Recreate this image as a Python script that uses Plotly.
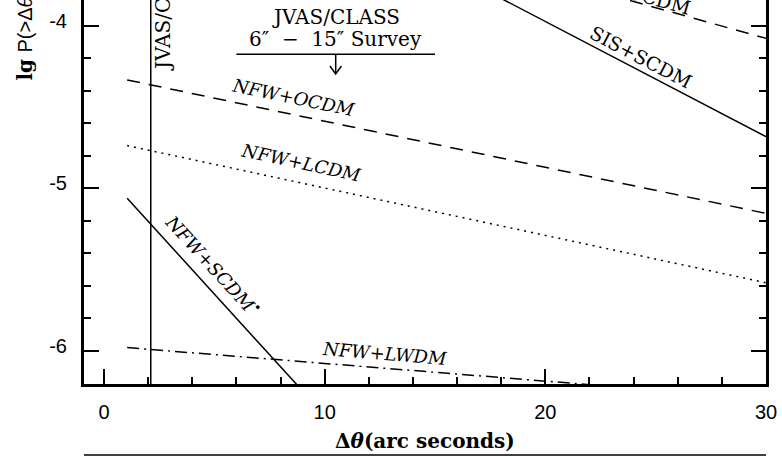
import plotly.graph_objects as go

# ---- data ----
nfw_ocdm_x = [1.05, 30.0]
nfw_ocdm_y = [-4.334, -5.155]
nfw_lcdm_x = [1.05, 30.0]
nfw_lcdm_y = [-4.738, -5.582]
nfw_scdm_x = [1.05, 8.8]
nfw_scdm_y = [-5.062, -6.218]
nfw_lwdm_x = [1.05, 22.0]
nfw_lwdm_y = [-5.981, -6.209]
sis_scdm_x = [15.0, 30.0]
sis_scdm_y = [-3.62, -4.683]
sis_ocdm_x = [20.0, 30.0]
sis_ocdm_y = [-3.70, -4.078]
survey_limit_x = [2.12, 2.12]
survey_limit_y = [-6.4, -3.5]
survey_range = [6.0, 15.0]

x_tickvals = [0, 10, 20, 30]
x_ticktext = ["0", "10", "20", "30"]
y_tickvals = [-6, -5, -4]
y_ticktext = ["-6", "-5", "-4"]

x_range = [-0.906, 30.0]
y_range = [-6.205, -3.842]

SERIF = "DejaVu Serif"
SANS = "Liberation Sans"

fig = go.Figure()

def add_line(x, y, dash):
    fig.add_trace(go.Scatter(x=x, y=y, mode="lines",
                             line=dict(color="black", width=1.5, dash=dash),
                             showlegend=False, hoverinfo="skip"))

add_line(nfw_ocdm_x, nfw_ocdm_y, "13px,9px")
add_line(nfw_lcdm_x, nfw_lcdm_y, "2px,5px")
add_line(nfw_scdm_x, nfw_scdm_y, "solid")
add_line(nfw_lwdm_x, nfw_lwdm_y, "12px,5px,2px,5px")
add_line(sis_scdm_x, sis_scdm_y, "solid")
add_line(sis_ocdm_x, sis_ocdm_y, "13px,9px")
add_line(survey_limit_x, survey_limit_y, "solid")

def label(text, x, y, angle, italic=True, size=18, xref="x", yref="y"):
    t = f"<i>{text}</i>" if italic else text
    fig.add_annotation(x=x, y=y, xref=xref, yref=yref, text=t, showarrow=False,
                       xanchor="center", yanchor="middle",
                       textangle=angle, font=dict(family=SERIF, size=size, color="black"))

label("NFW+OCDM", 8.61, -4.439, 11.8)
label("NFW+LCDM", 8.93, -4.845, 12.1)
label("NFW+SCDM<sup>•</sup>", 4.95, -5.47, 47.7)
label("NFW+LWDM", 12.73, -6.018, 4.6)
label("SIS+SCDM", 24.33, -4.193, 27.6, italic=False, size=19)
label("SIS+OCDM", (635 - 84) / 682, 1.019, 15.4, italic=False, size=19, xref="paper", yref="paper")

# vertical survey label
fig.add_annotation(x=(163 - 84) / 682, y=(384 - 73) / 384, xref="paper", yref="paper",
                   text="JVAS/CLASS", showarrow=False, textangle=-90,
                   xanchor="center", yanchor="bottom",
                   font=dict(family=SERIF, size=20, color="black"))

# survey header
mid = sum(survey_range) / 2
fig.add_annotation(x=mid, y=-3.945, text="JVAS/CLASS", showarrow=False,
                   xanchor="center", yanchor="middle",
                   font=dict(family=SERIF, size=20, color="black"))
fig.add_annotation(x=mid, y=-4.08, text="6″\u00a0 − \u00a015″ Survey", showarrow=False,
                   xanchor="center", yanchor="middle",
                   font=dict(family=SERIF, size=20, color="black"))
y_bar = -4.176
y_tip = -4.297
fig.add_shape(type="line", x0=survey_range[0], x1=survey_range[1], y0=y_bar, y1=y_bar,
              line=dict(color="black", width=1.5))
fig.add_shape(type="line", x0=mid, x1=mid, y0=y_bar, y1=y_tip,
              line=dict(color="black", width=1.5))
fig.add_shape(type="path",
              path=f"M {mid-0.26},{y_tip+0.049} L {mid},{y_tip} L {mid+0.26},{y_tip+0.049}",
              line=dict(color="black", width=1.5))

# axis titles
fig.add_annotation(x=0.5, y=(384 - 441) / 384, xref="paper", yref="paper",
                   text="<b>Δ<i>θ</i>(arc seconds)</b>", showarrow=False,
                   xanchor="center", yanchor="middle",
                   font=dict(family=SERIF, size=20, color="black"))
fig.add_annotation(x=(24 - 84) / 682, y=(384 - 83) / 384, xref="paper", yref="paper",
                   text=f"<b>lg</b> <span style='font-family:{SANS}'>P(>Δ<i>θ</i>)</span>",
                   showarrow=False, textangle=-90, xanchor="center", yanchor="bottom",
                   font=dict(family=SERIF, size=20, color="black"))

# bottom rule
fig.add_shape(type="line", xref="paper", yref="paper", x0=0, x1=1,
              y0=(384 - 455) / 384, y1=(384 - 455) / 384,
              line=dict(color="black", width=1.5))

fig.update_xaxes(range=x_range, showgrid=False, zeroline=False,
                 showline=True, linecolor="black", linewidth=3, mirror=False,
                 ticks="inside", ticklen=15, tickwidth=2, tickcolor="black",
                 tickmode="array", tickvals=x_tickvals, ticktext=x_ticktext,
                 minor=dict(ticks="inside", ticklen=7, tickwidth=1.5, tickcolor="black",
                            tick0=0, dtick=2, showgrid=False),
                 tickfont=dict(family=SANS, size=20, color="black"),
                 ticklabelstandoff=8)
fig.update_yaxes(range=y_range, showgrid=False, zeroline=False,
                 showline=True, linecolor="black", linewidth=3, mirror="ticks",
                 ticks="inside", ticklen=15, tickwidth=2, tickcolor="black",
                 tickmode="array", tickvals=y_tickvals, ticktext=y_ticktext,
                 minor=dict(ticks="inside", ticklen=7, tickwidth=1.5, tickcolor="black",
                            tick0=-6, dtick=0.2, showgrid=False),
                 tickfont=dict(family=SANS, size=20, color="black"),
                 ticklabelshift=-5, ticklabelstandoff=10)

fig.update_layout(width=782, height=457,
                  margin=dict(l=84, r=16, t=0, b=73),
                  plot_bgcolor="white", paper_bgcolor="white")

fig.write_html("out.html")
